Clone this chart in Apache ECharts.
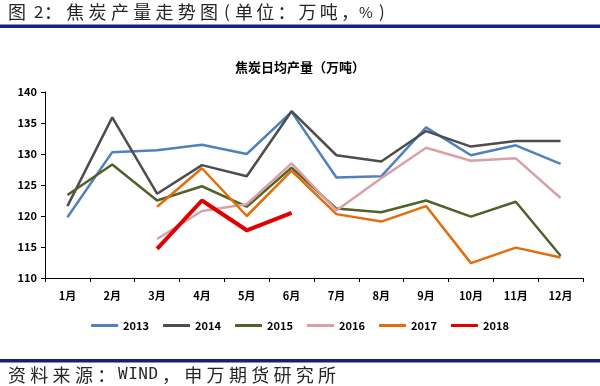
<!DOCTYPE html>
<html><head><meta charset="utf-8">
<script src="https://cdn.jsdelivr.net/npm/echarts@6/dist/echarts.min.js"></script>
<style>html,body{margin:0;padding:0;background:#fff}#c{width:600px;height:386px}</style>
</head><body><div id="c"></div>
<script>
const categories = ['1月','2月','3月','4月','5月','6月','7月','8月','9月','10月','11月','12月'];
const years = ['2013','2014','2015','2016','2017','2018'];
const s2013 = [119.8,130.3,130.6,131.5,130.0,136.8,126.2,126.4,134.3,129.8,131.4,128.4];
const s2014 = [121.6,135.9,123.6,128.2,126.4,136.9,129.8,128.8,133.7,131.2,132.1,132.1];
const s2015 = [123.4,128.3,122.5,124.8,121.5,127.8,121.2,120.6,122.5,119.9,122.3,113.6];
const s2016 = [null,null,116.3,120.8,121.9,128.5,120.9,126.1,131.0,128.9,129.3,122.9];
const s2017 = [null,null,121.5,127.7,120.0,127.3,120.3,119.1,121.6,112.4,114.9,113.3];
const s2018 = [null,null,114.7,122.5,117.7,120.5,null,null,null,null,null,null];
const yTicks = [110,115,120,125,130,135,140];

const colors = ['#4f81bd','#4d4d4d','#4f6228','#d9a0a6','#e46c0a','#e00000'];
const widths = [2.5,2.5,2.5,2.5,2.5,4];
const data = [s2013,s2014,s2015,s2016,s2017,s2018];

const cjk = '"Noto Sans CJK SC", sans-serif';
const mono = '"DejaVu Sans Mono", monospace';

// spaced text: each char placed with pitch (CJK) or measured advance (Latin)
const ctx = document.createElement('canvas').getContext('2d');
function spaced(text, x, yc, size, pitch, latinSize, latinGap, color, latinFont) {
  const out = [];
  let cx = x;
  for (const ch of text) {
    const latin = ch.charCodeAt(0) < 0x2000;
    const fs = latin ? latinSize : size;
    const ff = latin ? (latinFont || mono) : cjk;
    out.push({type:'text', x:cx, y:yc, style:{text:ch, fontSize:fs, fontFamily:ff, fill:color, verticalAlign:'middle'}});
    if (latin) { ctx.font = fs + 'px ' + ff; cx += ctx.measureText(ch).width + latinGap; }
    else cx += pitch;
  }
  return out;
}

const tc = '#262626';
const graphics = [].concat(
  spaced('图', 8, 12, 18, 22.3, 17, 1, tc),
  spaced('2', 34, 12, 18, 22.3, 17, 1, tc, cjk),
  spaced('：焦炭产量走势图', 44, 12, 18, 22.3, 17, 1, tc),
  spaced('(', 224, 12, 18, 22.3, 17, 1, tc, cjk),
  spaced('单位：万吨，', 235, 12, 18, 21.2, 17, 1, tc),
  spaced('%', 359, 12, 18, 22.3, 15, 1, tc, cjk),
  spaced(')', 379, 12, 18, 22.3, 17, 1, tc, cjk),
  spaced('资料来源：', 8, 375, 18, 22.3, 15, 1, tc),
  spaced('WIND', 118, 375, 18, 22.3, 16, 0.5, tc),
  spaced('，申万期货研究所', 162, 375, 18, 22.3, 15, 1, tc),
  [
    {type:'rect', shape:{x:0, y:24.5, width:600, height:3.5}, style:{fill:'#14207a'}},
    {type:'rect', shape:{x:0, y:359, width:600, height:3.5}, style:{fill:'#14207a'}}
  ]
);

const chart = echarts.init(document.getElementById('c'));
chart.setOption({
  animation:false,
  title:{text:'焦炭日均产量（万吨）', left:'center', top:56,
    textStyle:{fontSize:13, fontWeight:'bold', color:'#000', fontFamily:cjk}},
  grid:{left:45, right:17, top:92, bottom:108},
  legend:{top:315, left:'center', itemWidth:27, itemHeight:3, itemGap:14, icon:'rect',
    textStyle:{fontSize:11, fontWeight:'bold', color:'#000', fontFamily:cjk},
    data:years},
  xAxis:{type:'category', data:categories, boundaryGap:true,
    axisLine:{lineStyle:{color:'#000', width:1}},
    axisTick:{show:true, length:4, lineStyle:{color:'#000'}},
    axisLabel:{fontSize:11, fontWeight:'bold', color:'#000', fontFamily:cjk, margin:12}},
  yAxis:{type:'value', min:yTicks[0], max:yTicks[yTicks.length-1], interval:5,
    axisLine:{show:true, lineStyle:{color:'#000', width:1}},
    axisTick:{show:true, length:4, lineStyle:{color:'#000'}},
    splitLine:{show:false},
    axisLabel:{fontSize:11, fontWeight:'bold', color:'#000', fontFamily:cjk, margin:8}},
  series: years.map((y,i)=>({name:y, type:'line', data:data[i], symbol:'none',
    lineStyle:{color:colors[i], width:widths[i]}, itemStyle:{color:colors[i]}, z:i===5?10:2})),
  graphic: graphics
});
</script></body></html>
